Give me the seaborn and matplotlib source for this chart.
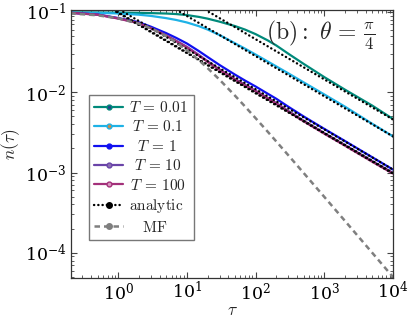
import numpy as np
import pandas as pd
import matplotlib
matplotlib.use('Agg')
import matplotlib.pyplot as plt
from matplotlib.lines import Line2D
from matplotlib.ticker import LogLocator, NullFormatter
import seaborn as sns

sns.set_style('ticks')
plt.rcParams['mathtext.fontset'] = 'cm'
plt.rcParams['font.family'] = ['DejaVu Serif']

# values
tau = [0.2, 0.5, 1, 2, 3, 5, 7, 10, 15, 20, 30, 50, 70, 100, 150, 200, 300, 500,
       1000, 2000, 5000, 10000]
n_T001 = [0.0989, 0.0986, 0.0982, 0.0975, 0.0968, 0.0957, 0.0942, 0.0915, 0.0868,
          0.0826, 0.0757, 0.0668, 0.0604, 0.0530, 0.0443, 0.0383, 0.0302, 0.0226,
          0.01545, 0.01078, 0.00682, 0.00465]
n_T01 = [0.0982, 0.0975, 0.0958, 0.0925, 0.0893, 0.0838, 0.0795, 0.0740, 0.0665,
         0.0605, 0.0515, 0.0408, 0.0350, 0.0295, 0.0242, 0.0210, 0.0172, 0.0133,
         0.0094, 0.00662, 0.00405, 0.00282]
n_T1 = [0.0978, 0.0930, 0.0840, 0.0745, 0.0655, 0.0545, 0.0475, 0.0405, 0.0325,
        0.0275, 0.0218, 0.0166, 0.0140, 0.0118, 0.0096, 0.0083, 0.0066, 0.0050,
        0.00350, 0.00247, 0.00155, 0.00109]
n_T10 = [0.0977, 0.0927, 0.0832, 0.0726, 0.0630, 0.0512, 0.0438, 0.0368, 0.0291,
         0.0244, 0.0192, 0.0146, 0.0124, 0.01044, 0.0085, 0.00735, 0.00584, 0.00443,
         0.0031, 0.0022, 0.00139, 0.00099]
n_T100 = [0.0976, 0.0925, 0.0828, 0.0723, 0.0625, 0.0507, 0.0432, 0.0362, 0.0286,
          0.0239, 0.0189, 0.0144, 0.0122, 0.0103, 0.00835, 0.00722, 0.00574, 0.00435,
          0.00305, 0.00216, 0.00136, 0.00097]
n_MF = [0.0960, 0.0909, 0.0833, 0.0714, 0.0625, 0.0500, 0.0417, 0.0333, 0.0250,
        0.0200, 0.0143, 0.00909, 0.00667, 0.00476, 0.00323, 0.00244, 0.00164, 0.00099,
        0.000498, 0.00025, 0.0001, 0.00005]

# analytic power-law asymptotes (two end points each)
tau_an = [0.2, 10000]
an_T001 = [1.024, 0.00458]
an_T01 = [0.631, 0.00282]
an_T1 = [0.244, 0.00109]
an_T10 = [0.221, 0.00099]
an_T100 = [0.217, 0.00097]

labels_T = ['0.01', '0.1', '1', '10', '100']
label_pad = [0, 0.25, 0.64, 0.39, 0.14]
colors = ['#00897a', '#1eb2e6', '#1010f0', '#6a44a8', '#a3307a']
faces = ['#23468c', '#c98a4a', '#1010f0', '#8a70b0', '#d898c0']
curves = [n_T001, n_T01, n_T1, n_T10, n_T100]
analytic = [an_T001, an_T01, an_T1, an_T10, an_T100]

fig, ax = plt.subplots(figsize=(4.11, 3.21), dpi=100)
fig.subplots_adjust(left=0.1727, right=0.956, bottom=0.135, top=0.969)

for vals, c in zip(curves, colors):
    sns.lineplot(x=tau, y=vals, ax=ax, color=c, lw=1.6, estimator=None, legend=False)

dot = (0, (0.1, 1.7))
for vals in analytic:
    sns.lineplot(x=tau_an, y=vals, ax=ax, color='black', lw=1.7, estimator=None,
                 legend=False, linestyle=dot, dash_capstyle='round')

dash = (0, (2.2, 1.6))
sns.lineplot(x=tau, y=n_MF, ax=ax, color='#7f7f7f', lw=1.8, estimator=None,
             legend=False, linestyle=dash)

ax.set_xscale('log')
ax.set_yscale('log')
ax.set_xlim(0.205, 1e4)
ax.set_ylim(4.9e-5, 0.106)
ax.set_xticks([1, 10, 100, 1000, 10000])
ax.set_yticks([1e-4, 1e-3, 1e-2, 1e-1])
for axis in (ax.xaxis, ax.yaxis):
    axis.set_minor_locator(LogLocator(base=10, subs=np.arange(2, 10), numticks=100))
    axis.set_minor_formatter(NullFormatter())
ax.tick_params(which='both', direction='in', top=True, right=True, colors='#444444',
               labelcolor='black', labelsize=12.5)
ax.tick_params(which='major', length=4.5)
ax.tick_params(which='minor', length=2.2)
ax.tick_params(axis='x', pad=2.5)
for s in ax.spines.values():
    s.set_color('#333333')
    s.set_linewidth(0.9)

ax.set_xlabel(r'$\tau$', fontsize=12.5, labelpad=-1)
ax.set_ylabel(r'$n(\tau)$', fontsize=12.5, labelpad=2)

ax.text(0.944, 0.905, r'$\mathrm{(b):}\ \theta\, =\, \frac{\pi}{4}$', transform=ax.transAxes,
        ha='right', va='center', fontsize=17)

handles = []
for c, f in zip(colors, faces):
    handles.append(Line2D([], [], color=c, lw=1.6, marker='o', ms=3.5, mfc=f, mec=c))
handles.append(Line2D([], [], color='black', lw=1.7, linestyle=dot,
                      dash_capstyle='round', marker='o', ms=4, mfc='black', mec='black'))
handles.append(Line2D([], [], color='#7f7f7f', lw=1.8, linestyle=dash,
                      marker='o', ms=4, mfc='#7f7f7f', mec='#7f7f7f'))
labels = [r'$\hspace{%.2f}T\,=\,%s$' % (p, t) for p, t in zip(label_pad, labels_T)]
labels += [r'$\mathrm{analytic}$', r'$\hspace{1.0}\mathrm{MF}$']

leg = ax.legend(handles, labels, loc='lower left', bbox_to_anchor=(0.056, 0.141),
                frameon=True, fancybox=False, edgecolor='#777777', framealpha=1,
                fontsize=11, handlelength=1.9, handletextpad=0.4, labelspacing=0.29,
                borderpad=0.35, borderaxespad=0, numpoints=1)
leg.get_frame().set_linewidth(1.0)

fig.savefig('out.png', dpi=100)
